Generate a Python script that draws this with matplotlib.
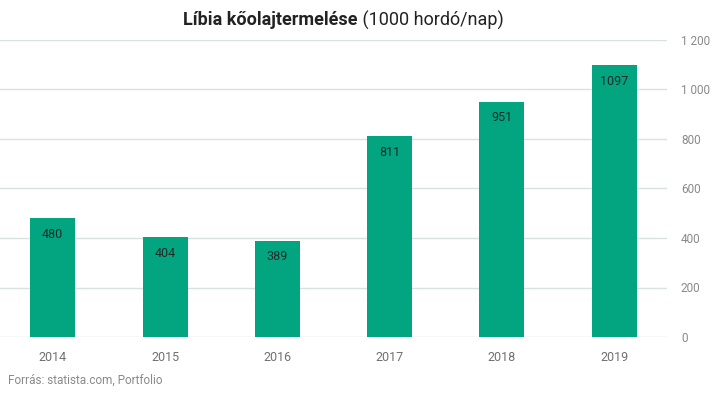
import matplotlib
matplotlib.use("Agg")
import matplotlib.pyplot as plt

years = ["2014", "2015", "2016", "2017", "2018", "2019"]
production = [480, 404, 389, 811, 951, 1097]
y_ticks = [0, 200, 400, 600, 800, 1000, 1200]

plt.rcParams["font.family"] = ["Roboto", "DejaVu Sans"]

fig = plt.figure(figsize=(7.15, 3.96), dpi=100)
ax = fig.add_axes([0, (396 - 337) / 396, 667 / 715, (337 - 40) / 396])

x = range(len(years))
ax.bar(x, production, width=0.4, color="#02a57f", zorder=2)

# value labels just under the top of each bar
for xi, v in zip(x, production):
    ax.annotate(
        str(v),
        (xi, v),
        xytext=(0, -16),
        textcoords="offset pixels",
        ha="center",
        va="center",
        fontsize=9,
        color="#1e2a26",
        zorder=3,
    )

ax.set_xlim(-0.47, 5.47)
ax.set_ylim(0, 1200)
ax.set_yticks(y_ticks)
ax.set_yticklabels([f"{t:,}".replace(",", " ") for t in y_ticks])
ax.yaxis.tick_right()
ax.set_xticks(list(x))
ax.set_xticklabels(years)

ax.tick_params(axis="y", length=0, pad=10, labelsize=8.5, labelcolor="#8a8a8a")
ax.tick_params(axis="x", length=0, pad=10, labelsize=9, labelcolor="#707070")

ax.grid(axis="y", color="#d8e2df", linewidth=1, zorder=0)
for s in ax.spines.values():
    s.set_visible(False)

fig.text(
    0.5, 1 - 20 / 396,
    "Líbia kőolajtermelése",
    ha="right", va="center",
    fontsize=13, fontweight="bold", color="#222222",
)
fig.text(
    0.5, 1 - 20 / 396,
    " (1000 hordó/nap)",
    ha="left", va="center",
    fontsize=13, color="#222222",
)

fig.text(
    8 / 715, 1 - 380 / 396,
    "Forrás: statista.com, Portfolio",
    ha="left", va="center",
    fontsize=8.5, color="#8a8a8a",
)

fig.savefig("out.png", dpi=100)
plt.close(fig)
